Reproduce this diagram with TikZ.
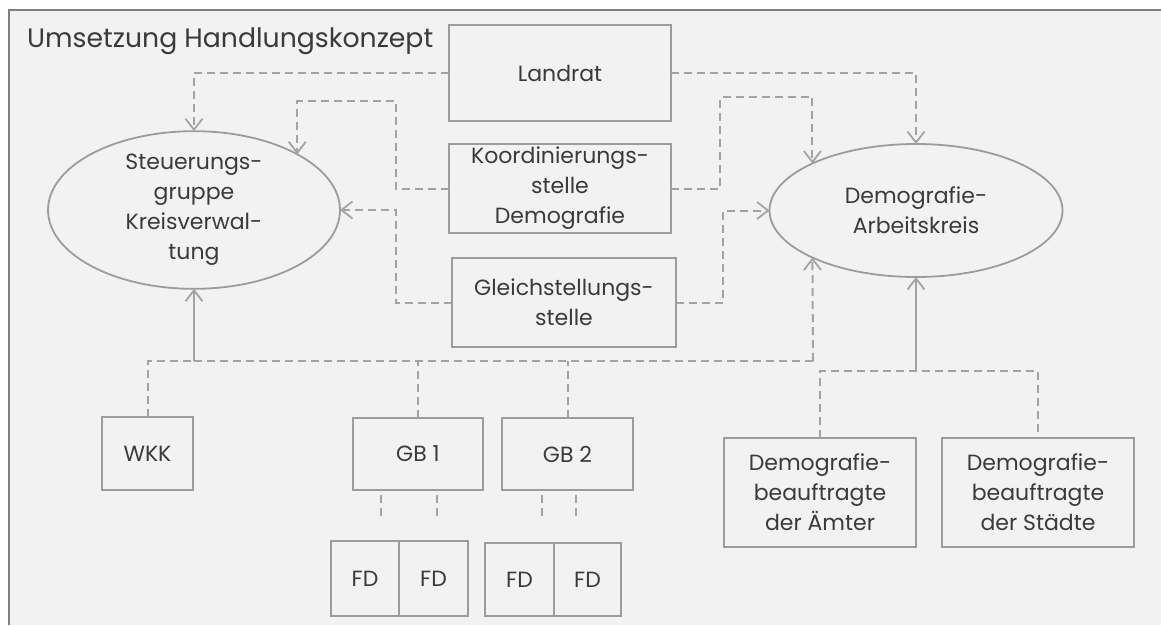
\documentclass[tikz,border=0pt]{standalone}
\usepackage{fontspec}
\setmainfont{Poppins}
\usetikzlibrary{shapes.geometric,arrows.meta}
\definecolor{bggray}{HTML}{F2F2F2}
\definecolor{framegray}{HTML}{808080}
\definecolor{linegray}{HTML}{A3A3A3}
\definecolor{boxgray}{HTML}{9C9C9C}
\definecolor{txtgray}{HTML}{3A3A3A}
\newcommand{\boxfont}{\fontsize{22}{30}\selectfont}
\newcommand{\titlefont}{\fontsize{26.7}{32}\selectfont}
\tikzset{
  stepbox/.style={draw=boxgray, line width=1.8pt, align=center, text=txtgray,
    font=\boxfont, inner sep=0pt, outer sep=0pt},
  ellbox/.style={ellipse, draw=boxgray, line width=1.8pt, align=center, text=txtgray,
    font=\boxfont, inner sep=0pt, outer sep=0pt},
  conn/.style={draw=linegray, line width=2pt, dash pattern=on 8pt off 5pt},
  solidconn/.style={draw=linegray, line width=2pt},
  tip/.style={-{Straight Barb[length=11pt,width=17pt,line width=1.8pt]}}
}
\begin{document}
\begin{tikzpicture}[x=1pt,y=-1pt]
\useasboundingbox (0,0) rectangle (1161,625);
\fill[white] (0,0) rectangle (1161,625);
\fill[bggray] (9,10) rectangle (1161,625);
\draw[framegray, line width=2pt] (9,625) -- (9,10) -- (1161,10);

\node[anchor=base west, text=txtgray, font=\titlefont, inner sep=0pt] (title) at (27,47) {Umsetzung Handlungskonzept};

\node[stepbox, minimum width=222pt, minimum height=96pt] (landrat) at (560,73) {Landrat};
\node[stepbox, minimum width=222pt, minimum height=89pt] (koord) at (560,188.5) {Koordinierungs-\\stelle\\Demografie};
\node[stepbox, minimum width=224pt, minimum height=89pt] (gleich) at (564,302.5) {Gleichstellungs-\\stelle};

\node[ellbox, minimum width=292pt, minimum height=134pt] (steu) at (194,210) {Steuerungs-\\gruppe\\Kreisverwal-\\tung};
\node[ellbox, minimum width=293pt, minimum height=133pt] (demo) at (916,210.5) {Demografie-\\Arbeitskreis};

\node[stepbox, minimum width=91pt, minimum height=73pt] (wkk) at (147.5,453.5) {WKK};
\node[stepbox, minimum width=130pt, minimum height=72pt] (gb1) at (418,454) {GB 1};
\node[stepbox, minimum width=131pt, minimum height=72pt] (gb2) at (567.5,454) {GB 2};

\node[stepbox, minimum width=68pt, minimum height=75pt] (fd1a) at (365,578.5) {FD};
\node[stepbox, minimum width=69pt, minimum height=75pt] (fd1b) at (433.5,578.5) {FD};
\node[stepbox, minimum width=69pt, minimum height=73pt] (fd2a) at (519.5,579.5) {FD};
\node[stepbox, minimum width=67pt, minimum height=73pt] (fd2b) at (587.5,579.5) {FD};

\node[stepbox, minimum width=192pt, minimum height=109pt] (dba) at (820,492.5) {Demografie-\\beauftragte\\der Ämter};
\node[stepbox, minimum width=192pt, minimum height=109pt] (dbs) at (1038,492.5) {Demografie-\\beauftragte\\der Städte};

% coordinates for bends
\coordinate (kl) at (396,101);
\coordinate (kr) at (720,97);
\coordinate (gl) at (396,210);
\coordinate (gr) at (723,210.5);
\coordinate (sj) at (194,361);
\coordinate (bj) at (813,361);
\coordinate (dj) at (916,371);
\coordinate (s1a) at (381,495); \coordinate (e1a) at (381,521);
\coordinate (s1b) at (437,495); \coordinate (e1b) at (437,521);
\coordinate (s2a) at (542,495); \coordinate (e2a) at (542,521);
\coordinate (s2b) at (576,495); \coordinate (e2b) at (576,521);

% Landrat
\draw[conn,tip] (landrat.west) -| (steu.north);
\draw[conn,tip] (landrat.east) -| (demo.north);
% Koordinierungsstelle
\draw[conn,tip] (koord.west) -| (kl) -| (steu.north east);
\draw[conn,tip] (koord.east) -| (kr) -| (demo.north west);
% Gleichstellungsstelle
\draw[conn,tip] (gleich.west) -| (gl) -- (steu.east);
\draw[conn,tip] (gleich.east) -| (gr) -- (demo.west);
% bottom bus
\draw[conn] (wkk.north) |- (sj);
\draw[conn] (sj) -- (bj);
\draw[solidconn,tip] (sj) -- (steu.south);
\draw[conn,tip] (bj) -- (demo.south west);
\draw[conn] (gb1.north) -- (gb1.north |- sj);
\draw[conn] (gb2.north) -- (gb2.north |- sj);
% Demografiebeauftragte
\draw[conn] (dba.north) |- (dj) -| (dbs.north);
\draw[solidconn,tip] (dj) -- (demo.south);
% stubs below GB
\draw[conn] (s1a) -- (e1a);
\draw[conn] (s1b) -- (e1b);
\draw[conn] (s2a) -- (e2a);
\draw[conn] (s2b) -- (e2b);
\end{tikzpicture}
\end{document}
